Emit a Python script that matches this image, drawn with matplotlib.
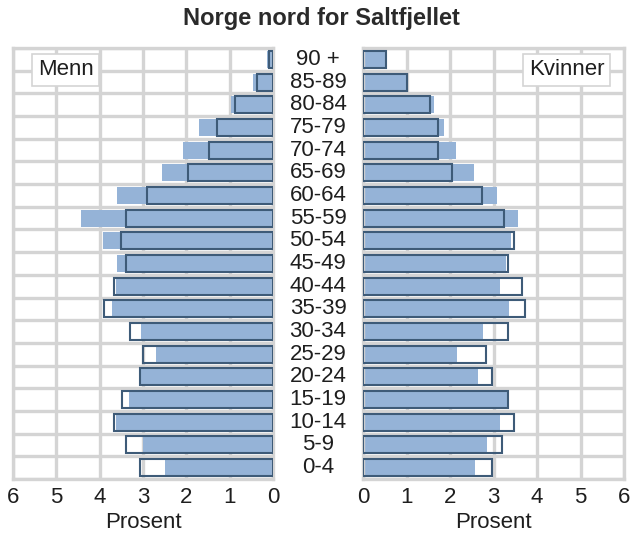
import matplotlib
matplotlib.use("Agg")
import matplotlib.pyplot as plt
import numpy as np

plt.rcParams['font.family'] = ['Liberation Sans', 'DejaVu Sans']

ages = ["90 +", "85-89", "80-84", "75-79", "70-74", "65-69", "60-64", "55-59",
        "50-54", "45-49", "40-44", "35-39", "30-34", "25-29", "20-24", "15-19",
        "10-14", "5-9", "0-4"]

menn_fill = [0.15, 0.46, 0.97, 1.71, 2.08, 2.57, 3.61, 4.42, 3.93, 3.61, 3.62,
             3.71, 3.04, 2.69, 3.08, 3.33, 3.62, 3.00, 2.50]
menn_line = [0.10, 0.37, 0.88, 1.29, 1.48, 1.97, 2.90, 3.40, 3.50, 3.40, 3.68,
             3.90, 3.31, 2.99, 3.08, 3.49, 3.68, 3.40, 3.08]
kvinner_fill = [0.52, 1.02, 1.63, 1.87, 2.14, 2.55, 3.07, 3.57, 3.40, 3.29, 3.15,
                3.35, 2.75, 2.15, 2.65, 3.30, 3.15, 2.84, 2.57]
kvinner_line = [0.52, 1.02, 1.55, 1.73, 1.73, 2.04, 2.73, 3.25, 3.47, 3.33, 3.66,
                3.73, 3.33, 2.82, 2.96, 3.33, 3.47, 3.20, 2.96]

xticks = [0, 1, 2, 3, 4, 5, 6]
title = "Norge nord for Saltfjellet"
xlabel = "Prosent"

fill_c = "#95b3d7"
edge_c = "#3e5b78"
grid_c = "#d4d4d4"
txt_c = "#1e1e1e"

W, H = 633, 535
fig = plt.figure(figsize=(W / 100, H / 100), dpi=100)

y = np.arange(len(ages))[::-1]
top, bot = 48, 479
axL = fig.add_axes([13 / W, 1 - bot / H, (273 - 13) / W, (bot - top) / H])
axR = fig.add_axes([363 / W, 1 - bot / H, (624 - 363) / W, (bot - top) / H])

for ax, fv, lv in ((axL, menn_fill, menn_line), (axR, kvinner_fill, kvinner_line)):
    ax.set_ylim(-0.5, len(ages) - 0.5)
    ax.set_xlim(0, 6)
    ax.barh(y, fv, height=0.75, color=fill_c, zorder=2)
    ax.barh(y, lv, height=0.75, facecolor="none", edgecolor=edge_c, linewidth=1.5, zorder=3)
    for b in np.arange(-0.5, len(ages), 1.0):
        ax.axhline(b, color=grid_c, lw=2.4, zorder=1)
    for t in xticks:
        ax.axvline(t, color=grid_c, lw=2.4, zorder=1)
    ax.set_yticks([])
    ax.set_xticks(xticks)
    ax.set_xticklabels([str(t) for t in xticks], fontsize=16)
    ax.tick_params(axis='x', length=0, pad=6, colors=txt_c)
    for s in ax.spines.values():
        s.set_color(grid_c)
        s.set_linewidth(2.4)
    ax.set_xlabel(xlabel, fontsize=16, labelpad=3, color=txt_c)

axL.invert_xaxis()

for yi, lab in zip(y, ages):
    yp = 1 - (bot - (yi + 0.5) / len(ages) * (bot - top)) / H
    fig.text(318 / W, yp, lab, ha='center', va='center', fontsize=16, color=txt_c)

fig.text(321 / W, 1 - 18 / H, title, ha='center', va='center', fontsize=17,
         fontweight='bold', color="#2a2a2a")

box = dict(boxstyle="square,pad=0.25", facecolor="white", edgecolor=grid_c, linewidth=1.2)
axL.text(0.095, 0.949, "Menn", transform=axL.transAxes, ha='left', va='center',
         fontsize=16, color=txt_c, bbox=box, zorder=5)
axR.text(0.925, 0.949, "Kvinner", transform=axR.transAxes, ha='right', va='center',
         fontsize=16, color=txt_c, bbox=box, zorder=5)

fig.savefig("out.png", dpi=100)
